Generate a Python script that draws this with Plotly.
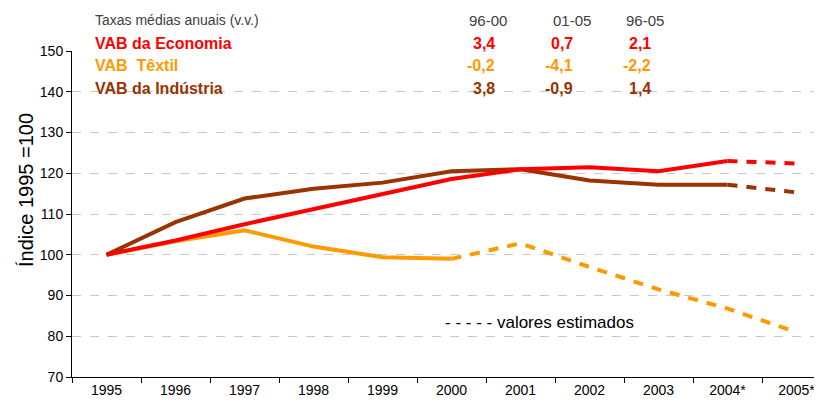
import plotly.graph_objects as go

years = ["1995", "1996", "1997", "1998", "1999", "2000", "2001", "2002", "2003", "2004*", "2005*"]
vab_economia = [100, 103.5, 107.5, 111.2, 114.7, 118.6, 121.0, 121.5, 120.5, 123.0, 122.4]
vab_textil = [100, 103.3, 106.0, 102.0, 99.4, 99.0, 102.8, 97.0, 91.5, 86.8, 81.0]
vab_industria = [100, 108.0, 113.8, 116.2, 117.7, 120.5, 121.0, 118.2, 117.2, 117.2, 115.3]

periods = ["96-00", "01-05", "96-05"]
rate_economia = [3.4, 0.7, 2.1]
rate_textil = [-0.2, -4.1, -2.2]
rate_industria = [3.8, -0.9, 1.4]

C_ECO = "#FF0000"
C_TEX = "#FF9900"
C_IND = "#993300"

# split points where estimates begin
est_eco = 9
est_tex = 5
est_ind = 9

fig = go.Figure()

def add_series(vals, split, color):
    fig.add_trace(go.Scatter(x=years[:split + 1], y=vals[:split + 1], mode="lines",
                             line=dict(color=color, width=4), hoverinfo="skip", showlegend=False))
    fig.add_trace(go.Scatter(x=years[split:], y=vals[split:], mode="lines",
                             line=dict(color=color, width=4, dash="10px,9px"), hoverinfo="skip", showlegend=False))

add_series(vab_textil, est_tex, C_TEX)
add_series(vab_industria, est_ind, C_IND)
add_series(vab_economia, est_eco, C_ECO)

OFF = 8  # page body margin
W, H = 822, 405
L = 72 - OFF
T = 51 - OFF
B = H - (377 - OFF)
pw = W - L
ph = H - T - B

def px(x):
    return (x - OFF - L) / pw

def py(y):
    return (H - B - (y - OFF)) / ph

ann = []
font_base = "Arial, Liberation Sans, sans-serif"
ann.append(dict(x=px(93), y=py(20), text="Taxas médias anuais (v.v.)", xanchor="left", yanchor="middle",
                font=dict(family=font_base, size=14, color="#404040")))
labels = [("VAB da Economia", C_ECO, rate_economia, 44),
          ("VAB  Têxtil", C_TEX, rate_textil, 66),
          ("VAB da Indústria", C_IND, rate_industria, 88)]
for name, col, rates, yy in labels:
    ann.append(dict(x=px(93), y=py(yy), text="<b>" + name + "</b>", xanchor="left", yanchor="middle",
                    font=dict(family=font_base, size=16, color=col)))
    for xr, r in zip([497, 575, 653], rates):
        ann.append(dict(x=px(xr), y=py(yy), text="<b>" + ("%.1f" % r).replace(".", ",") + "</b>",
                        xanchor="right", yanchor="middle",
                        font=dict(family=font_base, size=16, color=col)))
for xc, p in zip([488, 572, 645], periods):
    ann.append(dict(x=px(xc), y=py(20), text=p, xanchor="center", yanchor="middle",
                    font=dict(family=font_base, size=15, color="#404040")))
ann.append(dict(x=px(443), y=py(322), text="- - - - - valores estimados", xanchor="left", yanchor="middle",
                font=dict(family=font_base, size=17, color="#000000")))
ann.append(dict(x=px(26), y=py(190), text="Índice 1995 =100", textangle=-90, xanchor="center", yanchor="middle",
                font=dict(family=font_base, size=20, color="#000000")))
for a in ann:
    a.update(xref="paper", yref="paper", showarrow=False)

fig.update_layout(
    width=W, height=H,
    margin=dict(l=L, r=0, t=T, b=B, pad=0),
    paper_bgcolor="white", plot_bgcolor="white",
    font=dict(family=font_base, size=14, color="#000000"),
    annotations=ann,
    xaxis=dict(type="category", categoryorder="array", categoryarray=years,
               range=[-0.5, -0.5 + pw / 69.0], tickson="boundaries",
               ticks="outside", ticklen=5, tickcolor="#000000",
               showline=True, linecolor="#000000", linewidth=1,
               showgrid=False, zeroline=False,
               tickfont=dict(size=14, family=font_base)),
    yaxis=dict(range=[70, 150], dtick=10, ticks="outside", ticklen=5, tickcolor="#000000",
               showline=True, linecolor="#000000", linewidth=1,
               showgrid=True, gridcolor="#C8C8C8", griddash="dash", gridwidth=1,
               zeroline=False, tickfont=dict(size=14, family=font_base)),
)

fig.write_html("out.html")
